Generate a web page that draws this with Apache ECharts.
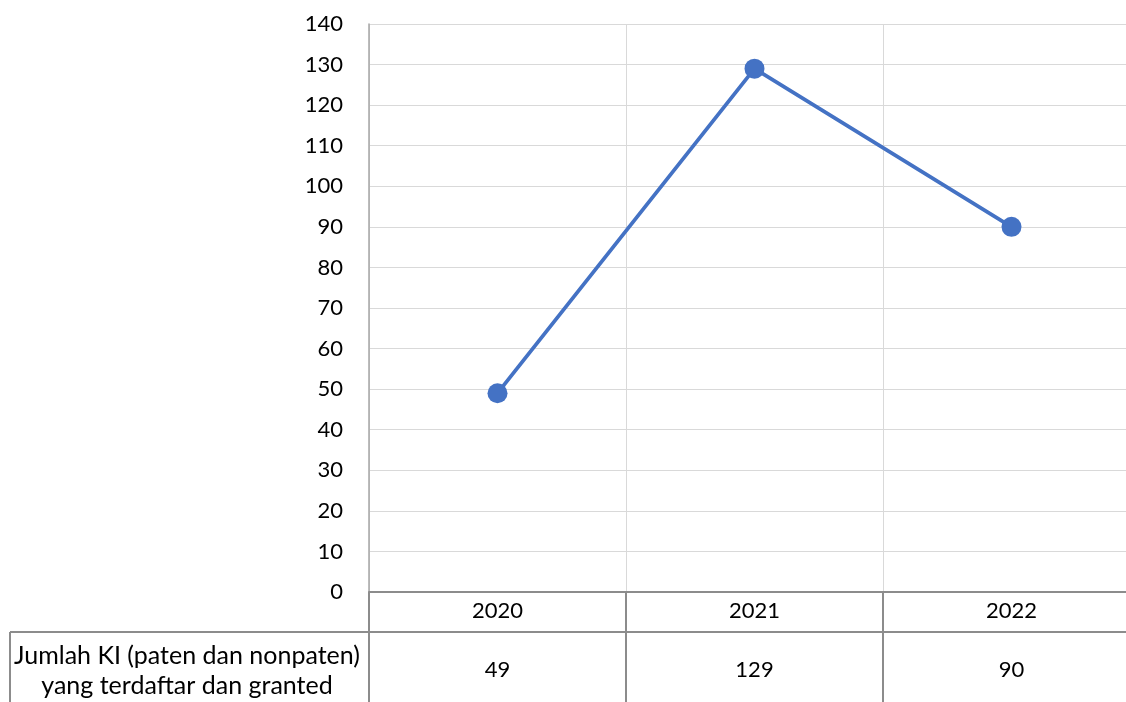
<!DOCTYPE html>
<html>
<head>
<meta charset="utf-8">
<script src="https://cdn.jsdelivr.net/npm/echarts@6/dist/echarts.min.js"></script>
<style>
html,body{margin:0;padding:0;background:#fff;}
#main{width:1126px;height:702px;}
</style>
</head>
<body>
<div id="main"></div>
<script>
const categories = ['2020', '2021', '2022'];
const values = [49, 129, 90];
const seriesName = 'Jumlah KI (paten dan nonpaten)\nyang terdaftar dan granted';
const yTicks = { min: 0, max: 140, interval: 10 };

const FONT = 'Lato';
const TABLE_LINE = '#8c8c8c';
const chart = echarts.init(document.getElementById('main'));
chart.setOption({
  animation: false,
  grid: { left: 369, top: 24, width: 771, height: 568, outerBoundsMode: 'none', containLabel: false },
  xAxis: [
    {
      type: 'category',
      data: categories,
      boundaryGap: true,
      position: 'bottom',
      axisLine: { show: true, lineStyle: { color: TABLE_LINE, width: 2 } },
      axisTick: { show: true, length: 110, lineStyle: { color: TABLE_LINE, width: 2 } },
      axisLabel: { fontFamily: FONT, fontSize: 22, color: '#000', margin: 8 },
      splitLine: { show: true, lineStyle: { color: '#d9d9d9', width: 1 } }
    },
    {
      type: 'category',
      data: values.map(v => String(v)),
      boundaryGap: true,
      position: 'bottom',
      offset: 40,
      axisLine: { show: true, lineStyle: { color: TABLE_LINE, width: 2 } },
      axisTick: { show: false },
      axisLabel: { fontFamily: FONT, fontSize: 22, color: '#000', margin: 27 },
      splitLine: { show: false }
    }
  ],
  yAxis: {
    type: 'value',
    min: yTicks.min, max: yTicks.max, interval: yTicks.interval,
    axisLine: { show: true, lineStyle: { color: '#a6a6a6', width: 1.5 } },
    axisTick: { show: false },
    axisLabel: { fontFamily: FONT, fontSize: 22, color: '#000', margin: 26 },
    splitLine: { show: true, lineStyle: { color: '#d9d9d9', width: 1 } }
  },
  graphic: [
    { type: 'line', shape: { x1: 10, y1: 632, x2: 369, y2: 632 }, style: { stroke: TABLE_LINE, lineWidth: 2 } },
    { type: 'line', shape: { x1: 10, y1: 632, x2: 10, y2: 702 }, style: { stroke: TABLE_LINE, lineWidth: 2 } },
    { type: 'text', x: 187, y: 671, style: { text: seriesName, font: '25px Lato', fill: '#000', align: 'center', verticalAlign: 'middle', lineHeight: 30 } }
  ],
  series: [{
    name: seriesName,
    type: 'line',
    data: values,
    symbol: 'circle',
    symbolSize: 20,
    lineStyle: { color: '#4472C4', width: 3.75 },
    itemStyle: { color: '#4472C4' }
  }]
});
</script>
</body>
</html>
